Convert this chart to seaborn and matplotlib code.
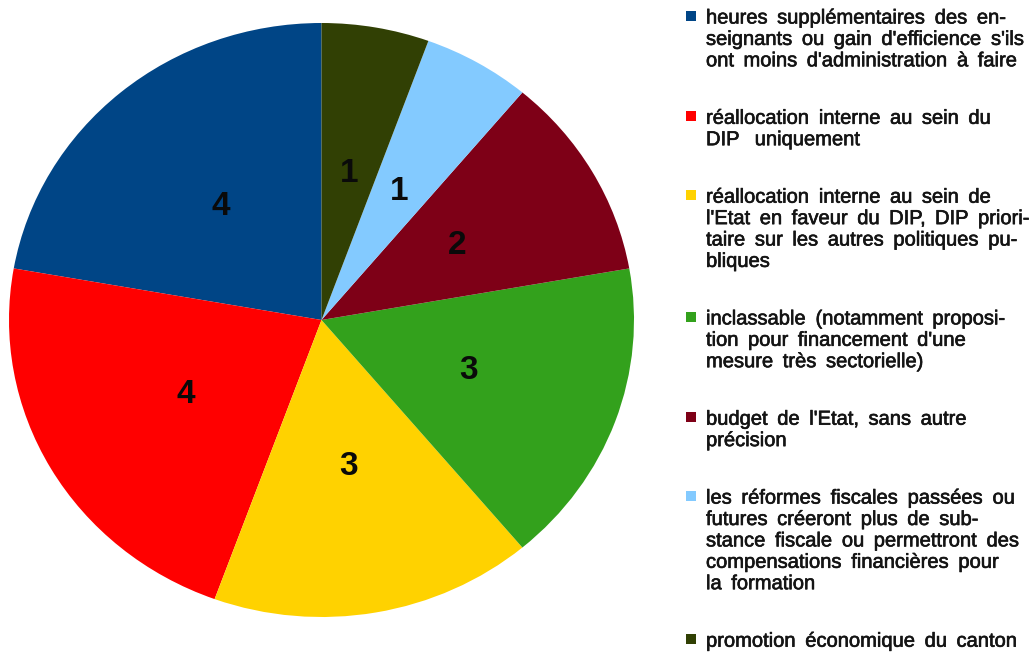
import matplotlib
matplotlib.use("Agg")
import matplotlib.pyplot as plt
import matplotlib.patheffects as pe
from matplotlib.patches import Rectangle
import seaborn as sns

# Sources de financement proposées (nombre de réponses)
categories = [
    "heures supplémentaires des en-\nseignants ou gain d'efficience s'ils\nont moins d'administration à faire",
    "réallocation interne au sein du\nDIP  uniquement",
    "réallocation interne au sein de\nl'Etat en faveur du DIP, DIP priori-\ntaire sur les autres politiques pu-\nbliques",
    "inclassable (notamment proposi-\ntion pour financement d'une\nmesure très sectorielle)",
    "budget de l'Etat, sans autre\nprécision",
    "les réformes fiscales passées ou\nfutures créeront plus de sub-\nstance fiscale ou permettront des\ncompensations financières pour\nla formation",
    "promotion économique du canton",
]
counts = [4, 4, 3, 3, 2, 1, 1]
colors = ["#004586", "#ff0000", "#ffd200", "#33a11c", "#7e0017", "#83caff", "#314004"]

sns.set_theme(style="white")
plt.rcParams["font.family"] = ["Liberation Sans", "DejaVu Sans"]

W, H = 1029, 653
fig = plt.figure(figsize=(W / 100, H / 100), dpi=100)
fig.patch.set_facecolor("white")

# pie area (slightly wider than tall)
left, top, right, bottom = 9, 23, 634, 617
ax = fig.add_axes([left / W, 1 - bottom / H, (right - left) / W, (bottom - top) / H])
palette = sns.color_palette(colors)
total = sum(counts)
wedges, _, autotexts = ax.pie(
    counts,
    colors=palette,
    startangle=90,
    counterclock=True,
    autopct=lambda p: f"{round(p * total / 100)}",
    pctdistance=0.5,
    wedgeprops=dict(linewidth=0),
    textprops=dict(fontsize=24, fontweight="bold", color="#0a0a0a"),
)
ax.set_aspect("auto")
ax.set_xlim(-1, 1)
ax.set_ylim(-1, 1)
ax.axis("off")

# legend drawn as wrapped, widely spaced text
renderer = fig.canvas.get_renderer()
text_x = 706
marker_x = 686
line_h = 21.4
para_gap = 57.5
word_gap = 9.5
fsize = 14.5
y_center = 16.5
ink = "#141414"
halo = [pe.withStroke(linewidth=0.45, foreground=ink)]


def fx(x):
    return x / W


def fy(y):
    return 1 - y / H


for label, col in zip(categories, palette):
    lines = label.split("\n")
    fig.patches.append(Rectangle((fx(marker_x), fy(y_center + 4.5)), 10 / W, 10 / H,
                                 transform=fig.transFigure, facecolor=col,
                                 edgecolor="none", figure=fig))
    yc = y_center
    for ln in lines:
        x = text_x
        for w in ln.split(" "):
            if w == "":
                x += word_gap * 0.6
                continue
            t = fig.text(fx(x), fy(yc + 7), w, fontsize=fsize, color=ink,
                         ha="left", va="baseline", path_effects=halo)
            x = t.get_window_extent(renderer).x1 + word_gap
        yc += line_h
    y_center = yc - line_h + para_gap

fig.savefig("out.png", dpi=100)
